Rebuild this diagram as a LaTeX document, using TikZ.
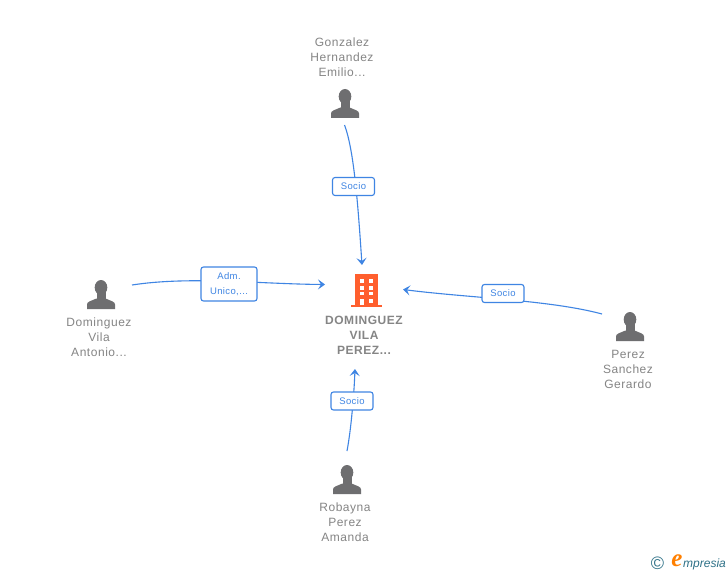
\documentclass[tikz,border=0pt]{standalone}
\usepackage{fontspec}
\setmainfont{Liberation Sans}
\newfontfamily\logoserif{Liberation Serif}
\newfontfamily\spacedsans[LetterSpace=4.5]{Liberation Sans}
\newfontfamily\tagsans[LetterSpace=4]{Liberation Sans}
\usetikzlibrary{arrows.meta}
\definecolor{txt}{HTML}{858585}
\definecolor{icon}{HTML}{6E6E70}
\definecolor{edge}{HTML}{3F85E3}
\definecolor{bld}{HTML}{FF5F2E}
\definecolor{logoteal}{HTML}{2F7288}
\tikzset{
  personlabel/.style={font=\spacedsans\fontsize{12}{15}\selectfont,text=txt,align=center,inner sep=0pt},
  hublabel/.style={font=\spacedsans\bfseries\fontsize{12}{15}\selectfont,text=txt,align=center,inner sep=0pt},
  tagbox/.style={draw=edge,line width=1.1pt,rounded corners=2.5pt,fill=white,text=edge,font=\tagsans\fontsize{9.5}{15.5}\selectfont,align=center,inner sep=0pt},
  linkline/.style={draw=edge,line width=1.1pt},
  arrowed/.style={-{Stealth[length=7pt,width=10pt,inset=3pt]}},
  personicon/.pic={
    \fill[icon] (0,-7.5) ellipse (6.3 and 7.5);
    \fill[icon] (-4.5,-3) rectangle (4.5,6);
    \fill[icon] (-14,14) -- (-14,9.5) .. controls (-14,6.5) and (-10,6) .. (-4.5,3.5) -- (4.5,3.5) .. controls (10,6) and (14,6.5) .. (14,9.5) -- (14,14) -- cycle;
  }
}
\begin{document}
\begin{tikzpicture}[x=1pt,y=-1pt]
\useasboundingbox (0,0) rectangle (728,575);
\fill[white] (0,0) rectangle (728,575);
% people
\pic at (345,104) {personicon};
\pic at (101,295) {personicon};
\pic at (630,327) {personicon};
\pic at (347,480) {personicon};
% building
\fill[bld] (355,274) rectangle (378,305);
\fill[bld] (351,304.5) rectangle (382,307);
\foreach \yy/\hh in {278.5/4.3,285.7/4.3,291.7/3.6} {
  \fill[white] (359.5,\yy) rectangle (363.5,\yy+\hh);
  \fill[white] (368.5,\yy) rectangle (373,\yy+\hh);
}
\fill[white] (359.5,298.5) rectangle (363.5,305);
\fill[white] (368.5,298.5) rectangle (373,303);
% names
\node[personlabel] (gon) at (342,57) {Gonzalez\\Hernandez\\Emilio...};
\node[personlabel] (dom) at (99,337) {Dominguez\\Vila\\Antonio...};
\node[personlabel] (per) at (628,369) {Perez\\Sanchez\\Gerardo};
\node[personlabel] (rob) at (345,522) {Robayna\\Perez\\Amanda};
\node[hublabel] (hub) at (364,335) {DOMINGUEZ\\VILA\\PEREZ...};
% anchors
\coordinate (gonE) at (344.5,125);
\coordinate (gonT) at (362,265);
\coordinate (domE) at (132,285);
\coordinate (domT) at (325,284.5);
\coordinate (perE) at (602,314);
\coordinate (perT) at (403,289.5);
\coordinate (robE) at (347,451);
\coordinate (robT) at (355,369);
% connectors
\draw[linkline,arrowed] (gonE) .. controls (354,150) and (358,205) .. (gonT);
\draw[linkline,arrowed] (domE) .. controls (190,276) and (260,284) .. (domT);
\draw[linkline,arrowed] (perE) .. controls (550,300) and (470,298) .. (perT);
\draw[linkline,arrowed] (robE) .. controls (351,430) and (354,395) .. (robT);
% labels
\node[tagbox,minimum width=42pt,minimum height=18pt] (t1) at (353.5,186.5) {Socio};
\node[tagbox,minimum width=56pt,minimum height=34pt] (t2) at (229,284) {Adm.\\Unico,...};
\node[tagbox,minimum width=42pt,minimum height=18pt] (t3) at (503,293.5) {Socio};
\node[tagbox,minimum width=42pt,minimum height=18pt] (t4) at (352,401) {Socio};
% logo
\node[inner sep=0pt,font=\fontsize{18}{18}\selectfont,text=logoteal] (cc) at (657.5,563.5) {©};
\node[inner sep=0pt,font=\logoserif\bfseries\itshape\fontsize{25}{25}\selectfont,text=orange] (lge) at (677,561) {e};
\node[inner sep=0pt,anchor=west,font=\itshape\fontsize{12}{12}\selectfont,text=logoteal] (lg) at (683,564.5) {mpresia};
\end{tikzpicture}
\end{document}
